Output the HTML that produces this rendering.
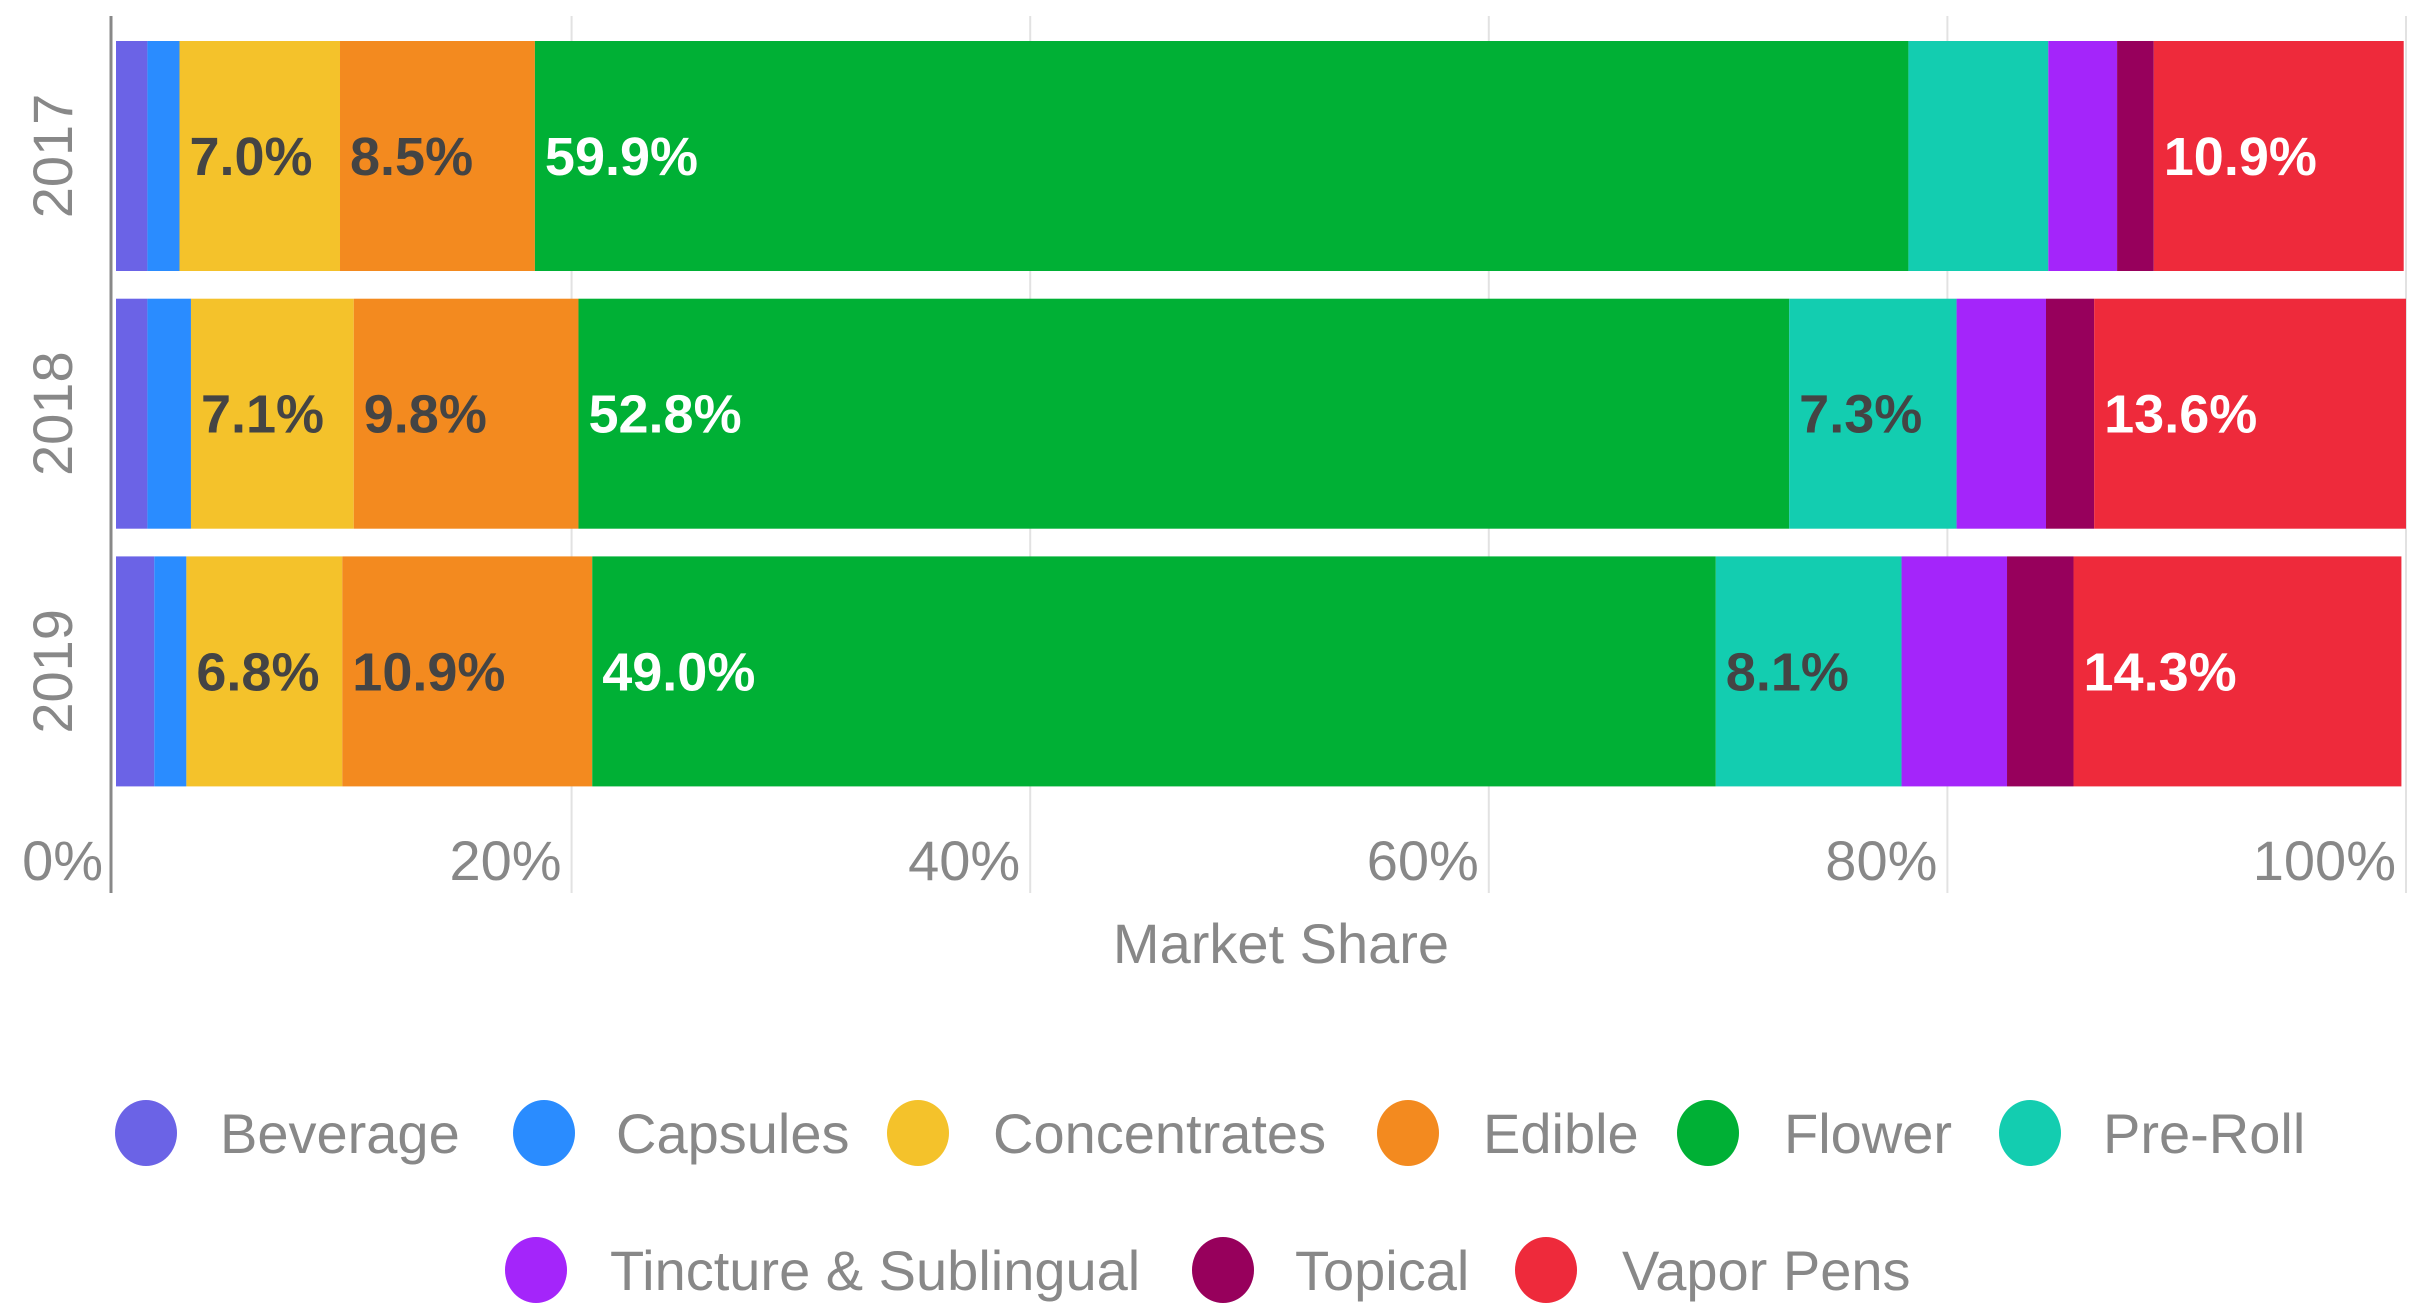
<!DOCTYPE html>
<html><head><meta charset="utf-8"><style>
html,body{margin:0;padding:0;background:#fff;}
svg{display:block;font-family:"Liberation Sans",sans-serif;}
</style></head><body>
<svg id="chart" width="2428" height="1308" viewBox="0 0 2428 1308" xmlns="http://www.w3.org/2000/svg"></svg>
<script>
const years = ["2017","2018","2019"];
const categories = ["Beverage","Capsules","Concentrates","Edible","Flower","Pre-Roll","Tincture & Sublingual","Topical","Vapor Pens"];
const colors = ["#6B63E6","#2A8CFF","#F4C22B","#F38A1F","#00B035","#13CDB0","#A425FA","#97005C","#EE2A3B"];
const labelColors = ["#fff","#fff","#444","#444","#fff","#444","#fff","#fff","#fff"];
const values2017 = [1.5,1.4,7.0,8.5,59.9,6.1,3.0,1.6,10.9];
const values2018 = [1.5,1.9,7.1,9.8,52.8,7.3,3.9,2.1,13.6];
const values2019 = [1.8,1.4,6.8,10.9,49.0,8.1,4.6,2.9,14.3];
const series = [values2017, values2018, values2019];
const ticks = [0,20,40,60,80,100];
const tickLabels = ["0%","20%","40%","60%","80%","100%"];

const NS="http://www.w3.org/2000/svg";
const svg=document.getElementById('chart');
const X0=113, X1=2406, BAR_TOP=41, BAR_STEP=257.7, BAR_H=230;
function x(v){return X0+(X1-X0)*v/100;}
function yBand(i){return BAR_TOP+i*BAR_STEP;}
function el(tag,attrs,parent){const e=document.createElementNS(NS,tag);for(const k in attrs)e.setAttribute(k,attrs[k]);(parent||svg).appendChild(e);return e;}

// gridlines
ticks.forEach((t,i)=>{
  if(t===0)return;
  const g=el('line',{x1:x(t),x2:x(t),y1:16,y2:893,stroke:'#e2e2e2','stroke-width':2});
  
  
});
// bars
series.forEach((vals,yi)=>{
  let cum=0;
  const grp=el('g',{});
  
  
  vals.forEach((v,ci)=>{
    const r=el('rect',{x:x(cum)+(cum===0?3:0),y:yBand(yi),width:x(cum+v)-x(cum)-(cum===0?3:0),height:BAR_H,fill:colors[ci]},grp);
    
    
    if(v>=6.5){
      const t=el('text',{x:x(cum)+10,y:yBand(yi)+BAR_H/2+19,'font-size':54,'font-weight':'bold',fill:labelColors[ci]},grp);
      t.textContent=v.toFixed(1)+'%';
      
      
    }
    cum+=v;
  });
  const yl=el('text',{transform:'translate(72,'+(yBand(yi)+BAR_H/2)+') rotate(-90)','text-anchor':'middle','font-size':56,fill:'#888'});
  yl.textContent=years[yi];
  
  
});
// axis line
const ax=el('line',{x1:111,x2:111,y1:16,y2:893,stroke:'#888','stroke-width':3});


// tick labels
ticks.forEach((t,i)=>{
  const tl=el('text',{x:x(t)-10,y:880,'text-anchor':'end','font-size':56,fill:'#888'});
  tl.textContent=tickLabels[i];
  
  
});
const xt=el('text',{x:1281,y:963,'text-anchor':'middle','font-size':56,fill:'#888'});
xt.textContent='Market Share';


// legend
const legendCx=[146,544,918,1408,1708,2030,536,1223,1546];
const legendTx=[220,616,993,1483,1784,2103,610,1295,1622];
const legendY=[1133,1133,1133,1133,1133,1133,1270,1270,1270];
categories.forEach((c,i)=>{
  const g=el('g',{});
  
  
  el('ellipse',{cx:legendCx[i],cy:legendY[i],rx:31,ry:33,fill:colors[i]},g);
  const t=el('text',{x:legendTx[i],y:legendY[i]+20,'font-size':56,fill:'#888'},g);
  t.textContent=c;
});
</script>
</body></html>
